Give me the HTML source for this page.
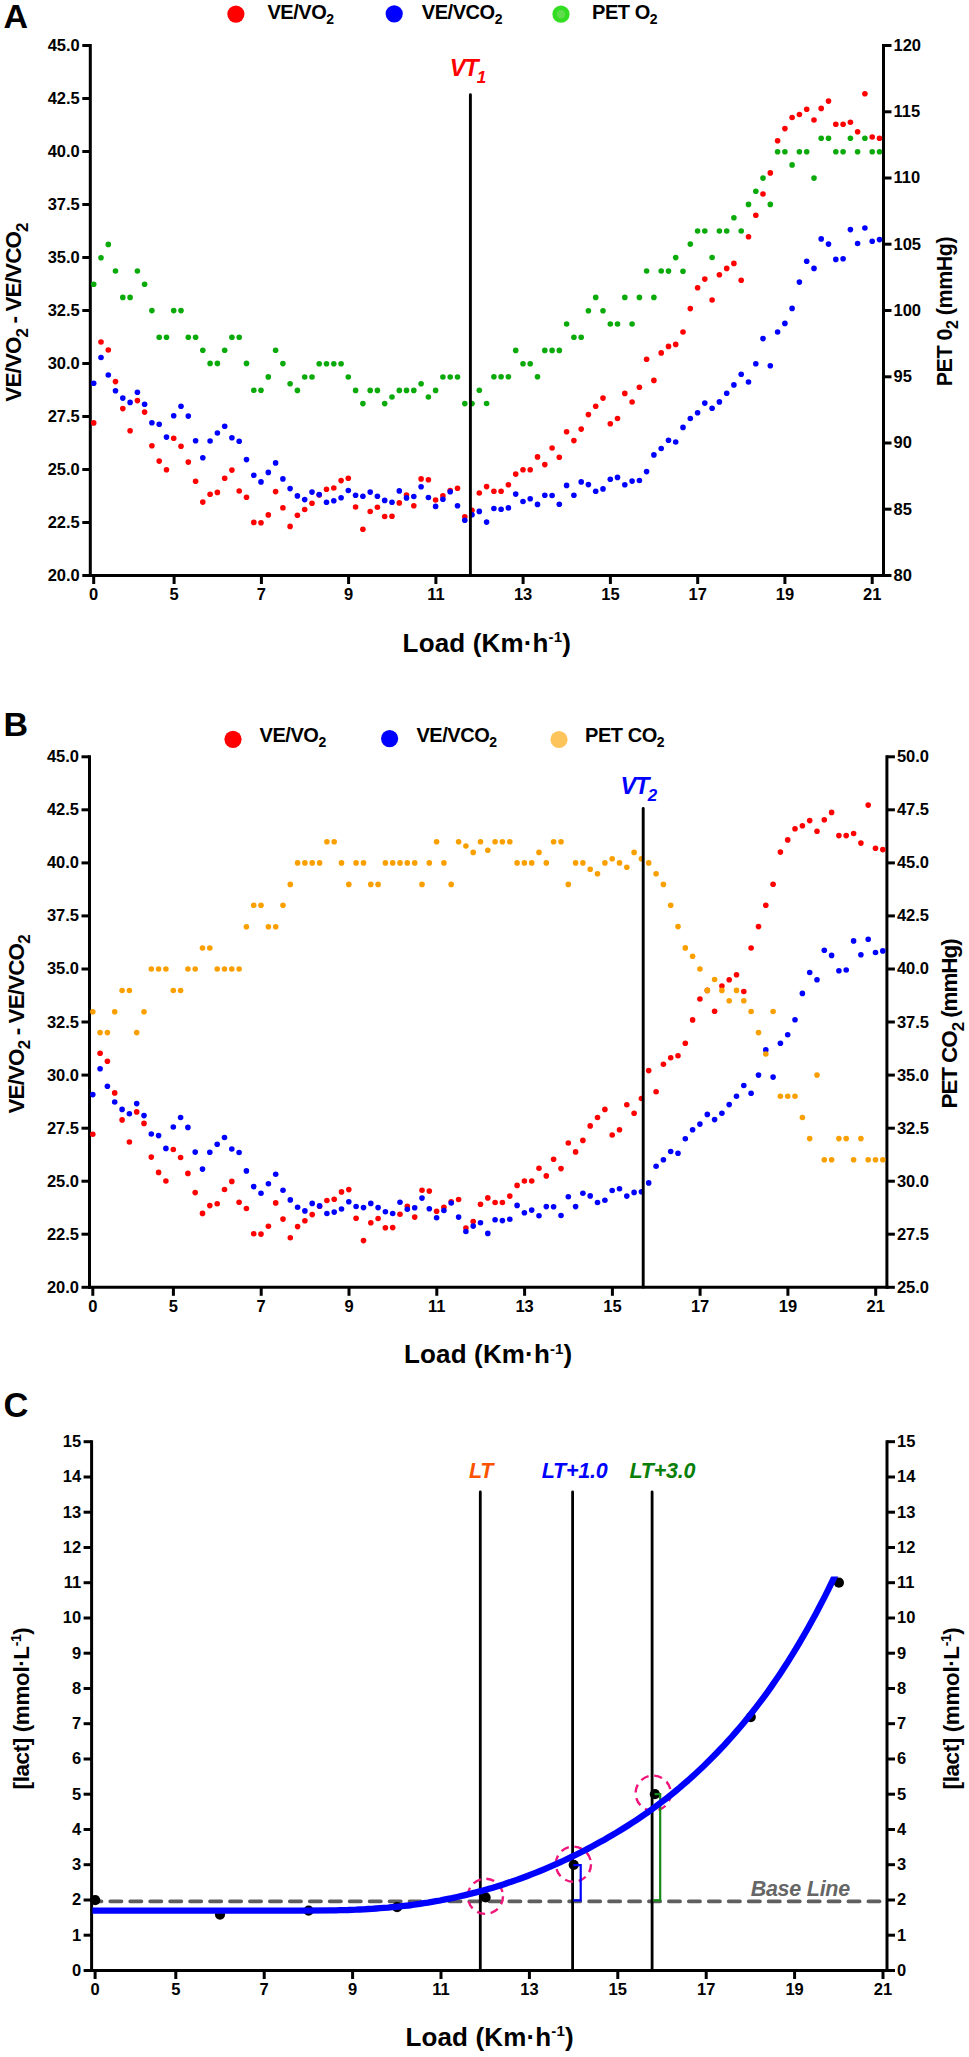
<!DOCTYPE html><html><head><meta charset="utf-8"><style>html,body{margin:0;padding:0;background:#fff;}svg{display:block;font-family:"Liberation Sans", sans-serif;}</style></head><body><svg width="969" height="2057" viewBox="0 0 969 2057" font-family="&quot;Liberation Sans&quot;, sans-serif" font-weight="bold">
<rect width="969" height="2057" fill="#fff"/>
<line x1="90.3" y1="44.0" x2="90.3" y2="577.0" stroke="#000" stroke-width="3" />
<line x1="883.5" y1="44.0" x2="883.5" y2="577.0" stroke="#000" stroke-width="3" />
<line x1="88.8" y1="575.5" x2="885.0" y2="575.5" stroke="#000" stroke-width="3" />
<line x1="82.3" y1="45.5" x2="90.3" y2="45.5" stroke="#000" stroke-width="3" />
<text x="79.8" y="50.9" font-size="16.5" text-anchor="end" fill="#000" >45.0</text>
<line x1="82.3" y1="98.5" x2="90.3" y2="98.5" stroke="#000" stroke-width="3" />
<text x="79.8" y="103.9" font-size="16.5" text-anchor="end" fill="#000" >42.5</text>
<line x1="82.3" y1="151.5" x2="90.3" y2="151.5" stroke="#000" stroke-width="3" />
<text x="79.8" y="156.9" font-size="16.5" text-anchor="end" fill="#000" >40.0</text>
<line x1="82.3" y1="204.5" x2="90.3" y2="204.5" stroke="#000" stroke-width="3" />
<text x="79.8" y="209.9" font-size="16.5" text-anchor="end" fill="#000" >37.5</text>
<line x1="82.3" y1="257.5" x2="90.3" y2="257.5" stroke="#000" stroke-width="3" />
<text x="79.8" y="262.9" font-size="16.5" text-anchor="end" fill="#000" >35.0</text>
<line x1="82.3" y1="310.5" x2="90.3" y2="310.5" stroke="#000" stroke-width="3" />
<text x="79.8" y="315.9" font-size="16.5" text-anchor="end" fill="#000" >32.5</text>
<line x1="82.3" y1="363.5" x2="90.3" y2="363.5" stroke="#000" stroke-width="3" />
<text x="79.8" y="368.9" font-size="16.5" text-anchor="end" fill="#000" >30.0</text>
<line x1="82.3" y1="416.5" x2="90.3" y2="416.5" stroke="#000" stroke-width="3" />
<text x="79.8" y="421.9" font-size="16.5" text-anchor="end" fill="#000" >27.5</text>
<line x1="82.3" y1="469.5" x2="90.3" y2="469.5" stroke="#000" stroke-width="3" />
<text x="79.8" y="474.9" font-size="16.5" text-anchor="end" fill="#000" >25.0</text>
<line x1="82.3" y1="522.5" x2="90.3" y2="522.5" stroke="#000" stroke-width="3" />
<text x="79.8" y="527.9" font-size="16.5" text-anchor="end" fill="#000" >22.5</text>
<line x1="82.3" y1="575.5" x2="90.3" y2="575.5" stroke="#000" stroke-width="3" />
<text x="79.8" y="580.9" font-size="16.5" text-anchor="end" fill="#000" >20.0</text>
<line x1="883.5" y1="45.5" x2="891.5" y2="45.5" stroke="#000" stroke-width="3" />
<text x="893.5" y="50.9" font-size="16.5" text-anchor="start" fill="#000" >120</text>
<line x1="883.5" y1="111.8" x2="891.5" y2="111.8" stroke="#000" stroke-width="3" />
<text x="893.5" y="117.2" font-size="16.5" text-anchor="start" fill="#000" >115</text>
<line x1="883.5" y1="178.0" x2="891.5" y2="178.0" stroke="#000" stroke-width="3" />
<text x="893.5" y="183.4" font-size="16.5" text-anchor="start" fill="#000" >110</text>
<line x1="883.5" y1="244.2" x2="891.5" y2="244.2" stroke="#000" stroke-width="3" />
<text x="893.5" y="249.7" font-size="16.5" text-anchor="start" fill="#000" >105</text>
<line x1="883.5" y1="310.5" x2="891.5" y2="310.5" stroke="#000" stroke-width="3" />
<text x="893.5" y="315.9" font-size="16.5" text-anchor="start" fill="#000" >100</text>
<line x1="883.5" y1="376.8" x2="891.5" y2="376.8" stroke="#000" stroke-width="3" />
<text x="893.5" y="382.1" font-size="16.5" text-anchor="start" fill="#000" >95</text>
<line x1="883.5" y1="443.0" x2="891.5" y2="443.0" stroke="#000" stroke-width="3" />
<text x="893.5" y="448.4" font-size="16.5" text-anchor="start" fill="#000" >90</text>
<line x1="883.5" y1="509.2" x2="891.5" y2="509.2" stroke="#000" stroke-width="3" />
<text x="893.5" y="514.6" font-size="16.5" text-anchor="start" fill="#000" >85</text>
<line x1="883.5" y1="575.5" x2="891.5" y2="575.5" stroke="#000" stroke-width="3" />
<text x="893.5" y="580.9" font-size="16.5" text-anchor="start" fill="#000" >80</text>
<line x1="93.7" y1="575.5" x2="93.7" y2="584.0" stroke="#000" stroke-width="3" />
<text x="93.7" y="600.0" font-size="16.5" text-anchor="middle" fill="#000" >0</text>
<line x1="174.1" y1="575.5" x2="174.1" y2="584.0" stroke="#000" stroke-width="3" />
<text x="174.1" y="600.0" font-size="16.5" text-anchor="middle" fill="#000" >5</text>
<line x1="261.4" y1="575.5" x2="261.4" y2="584.0" stroke="#000" stroke-width="3" />
<text x="261.4" y="600.0" font-size="16.5" text-anchor="middle" fill="#000" >7</text>
<line x1="348.6" y1="575.5" x2="348.6" y2="584.0" stroke="#000" stroke-width="3" />
<text x="348.6" y="600.0" font-size="16.5" text-anchor="middle" fill="#000" >9</text>
<line x1="435.9" y1="575.5" x2="435.9" y2="584.0" stroke="#000" stroke-width="3" />
<text x="435.9" y="600.0" font-size="16.5" text-anchor="middle" fill="#000" >11</text>
<line x1="523.1" y1="575.5" x2="523.1" y2="584.0" stroke="#000" stroke-width="3" />
<text x="523.1" y="600.0" font-size="16.5" text-anchor="middle" fill="#000" >13</text>
<line x1="610.4" y1="575.5" x2="610.4" y2="584.0" stroke="#000" stroke-width="3" />
<text x="610.4" y="600.0" font-size="16.5" text-anchor="middle" fill="#000" >15</text>
<line x1="697.7" y1="575.5" x2="697.7" y2="584.0" stroke="#000" stroke-width="3" />
<text x="697.7" y="600.0" font-size="16.5" text-anchor="middle" fill="#000" >17</text>
<line x1="784.9" y1="575.5" x2="784.9" y2="584.0" stroke="#000" stroke-width="3" />
<text x="784.9" y="600.0" font-size="16.5" text-anchor="middle" fill="#000" >19</text>
<line x1="872.2" y1="575.5" x2="872.2" y2="584.0" stroke="#000" stroke-width="3" />
<text x="872.2" y="600.0" font-size="16.5" text-anchor="middle" fill="#000" >21</text>
<g fill="#ff0000"><circle cx="93.7" cy="422.9" r="2.8"/><circle cx="101.0" cy="342.0" r="2.8"/><circle cx="108.3" cy="350.0" r="2.8"/><circle cx="115.5" cy="381.6" r="2.8"/><circle cx="122.8" cy="408.6" r="2.8"/><circle cx="130.1" cy="430.7" r="2.8"/><circle cx="137.4" cy="400.6" r="2.8"/><circle cx="144.6" cy="412.1" r="2.8"/><circle cx="151.9" cy="445.8" r="2.8"/><circle cx="159.2" cy="461.1" r="2.8"/><circle cx="166.5" cy="469.7" r="2.8"/><circle cx="173.7" cy="438.2" r="2.8"/><circle cx="181.0" cy="446.2" r="2.8"/><circle cx="188.3" cy="462.1" r="2.8"/><circle cx="195.6" cy="481.3" r="2.8"/><circle cx="202.8" cy="502.1" r="2.8"/><circle cx="210.1" cy="494.3" r="2.8"/><circle cx="217.4" cy="492.4" r="2.8"/><circle cx="224.7" cy="478.2" r="2.8"/><circle cx="231.9" cy="470.1" r="2.8"/><circle cx="239.2" cy="491.0" r="2.8"/><circle cx="246.5" cy="497.2" r="2.8"/><circle cx="253.8" cy="522.4" r="2.8"/><circle cx="261.0" cy="522.8" r="2.8"/><circle cx="268.3" cy="514.9" r="2.8"/><circle cx="275.6" cy="491.6" r="2.8"/><circle cx="282.9" cy="507.8" r="2.8"/><circle cx="290.1" cy="526.4" r="2.8"/><circle cx="297.4" cy="515.3" r="2.8"/><circle cx="304.7" cy="509.5" r="2.8"/><circle cx="312.0" cy="503.3" r="2.8"/><circle cx="319.2" cy="495.0" r="2.8"/><circle cx="326.5" cy="489.2" r="2.8"/><circle cx="333.8" cy="488.0" r="2.8"/><circle cx="341.1" cy="480.6" r="2.8"/><circle cx="348.3" cy="478.3" r="2.8"/><circle cx="355.6" cy="507.0" r="2.8"/><circle cx="362.9" cy="529.3" r="2.8"/><circle cx="370.2" cy="511.5" r="2.8"/><circle cx="377.4" cy="507.2" r="2.8"/><circle cx="384.7" cy="516.5" r="2.8"/><circle cx="392.0" cy="516.3" r="2.8"/><circle cx="399.3" cy="502.9" r="2.8"/><circle cx="406.5" cy="495.0" r="2.8"/><circle cx="413.8" cy="505.8" r="2.8"/><circle cx="421.1" cy="478.9" r="2.8"/><circle cx="428.4" cy="479.8" r="2.8"/><circle cx="435.6" cy="500.0" r="2.8"/><circle cx="442.9" cy="495.9" r="2.8"/><circle cx="450.2" cy="490.5" r="2.8"/><circle cx="457.5" cy="488.2" r="2.8"/><circle cx="464.8" cy="516.7" r="2.8"/><circle cx="472.0" cy="510.3" r="2.8"/><circle cx="479.3" cy="493.0" r="2.8"/><circle cx="486.6" cy="486.6" r="2.8"/><circle cx="493.9" cy="491.2" r="2.8"/><circle cx="501.1" cy="491.2" r="2.8"/><circle cx="508.4" cy="484.8" r="2.8"/><circle cx="515.7" cy="474.1" r="2.8"/><circle cx="523.0" cy="469.7" r="2.8"/><circle cx="530.2" cy="469.7" r="2.8"/><circle cx="537.5" cy="456.9" r="2.8"/><circle cx="544.8" cy="464.6" r="2.8"/><circle cx="552.1" cy="448.0" r="2.8"/><circle cx="559.3" cy="457.3" r="2.8"/><circle cx="566.6" cy="431.7" r="2.8"/><circle cx="573.9" cy="440.6" r="2.8"/><circle cx="581.2" cy="429.1" r="2.8"/><circle cx="588.4" cy="414.6" r="2.8"/><circle cx="595.7" cy="406.2" r="2.8"/><circle cx="603.0" cy="398.1" r="2.8"/><circle cx="610.3" cy="423.7" r="2.8"/><circle cx="617.5" cy="418.5" r="2.8"/><circle cx="624.8" cy="393.4" r="2.8"/><circle cx="632.1" cy="402.0" r="2.8"/><circle cx="639.4" cy="387.2" r="2.8"/><circle cx="646.6" cy="359.3" r="2.8"/><circle cx="653.9" cy="380.4" r="2.8"/><circle cx="661.2" cy="352.9" r="2.8"/><circle cx="668.5" cy="346.4" r="2.8"/><circle cx="675.7" cy="344.4" r="2.8"/><circle cx="683.0" cy="332.0" r="2.8"/><circle cx="690.3" cy="308.6" r="2.8"/><circle cx="697.6" cy="287.7" r="2.8"/><circle cx="704.8" cy="279.1" r="2.8"/><circle cx="712.1" cy="300.0" r="2.8"/><circle cx="719.4" cy="274.8" r="2.8"/><circle cx="726.7" cy="268.4" r="2.8"/><circle cx="733.9" cy="263.4" r="2.8"/><circle cx="741.2" cy="280.2" r="2.8"/><circle cx="748.5" cy="236.7" r="2.8"/><circle cx="755.8" cy="215.3" r="2.8"/><circle cx="763.0" cy="194.0" r="2.8"/><circle cx="770.3" cy="172.9" r="2.8"/><circle cx="777.6" cy="140.8" r="2.8"/><circle cx="784.9" cy="128.6" r="2.8"/><circle cx="792.1" cy="117.5" r="2.8"/><circle cx="799.4" cy="114.5" r="2.8"/><circle cx="806.7" cy="109.3" r="2.8"/><circle cx="814.0" cy="120.0" r="2.8"/><circle cx="821.2" cy="108.4" r="2.8"/><circle cx="828.5" cy="101.1" r="2.8"/><circle cx="835.8" cy="124.3" r="2.8"/><circle cx="843.1" cy="124.3" r="2.8"/><circle cx="850.4" cy="122.2" r="2.8"/><circle cx="857.6" cy="131.8" r="2.8"/><circle cx="864.9" cy="93.8" r="2.8"/><circle cx="872.2" cy="137.0" r="2.8"/><circle cx="879.5" cy="138.3" r="2.8"/></g>
<g fill="#0000ff"><circle cx="93.7" cy="383.3" r="2.8"/><circle cx="101.0" cy="357.5" r="2.8"/><circle cx="108.3" cy="375.0" r="2.8"/><circle cx="115.5" cy="390.7" r="2.8"/><circle cx="122.8" cy="398.1" r="2.8"/><circle cx="130.1" cy="402.4" r="2.8"/><circle cx="137.4" cy="392.3" r="2.8"/><circle cx="144.6" cy="404.3" r="2.8"/><circle cx="151.9" cy="422.7" r="2.8"/><circle cx="159.2" cy="424.3" r="2.8"/><circle cx="166.5" cy="437.1" r="2.8"/><circle cx="173.7" cy="415.7" r="2.8"/><circle cx="181.0" cy="406.2" r="2.8"/><circle cx="188.3" cy="416.1" r="2.8"/><circle cx="195.6" cy="440.8" r="2.8"/><circle cx="202.8" cy="457.8" r="2.8"/><circle cx="210.1" cy="441.0" r="2.8"/><circle cx="217.4" cy="433.0" r="2.8"/><circle cx="224.7" cy="426.2" r="2.8"/><circle cx="231.9" cy="437.7" r="2.8"/><circle cx="239.2" cy="441.2" r="2.8"/><circle cx="246.5" cy="459.6" r="2.8"/><circle cx="253.8" cy="475.3" r="2.8"/><circle cx="261.0" cy="481.9" r="2.8"/><circle cx="268.3" cy="472.4" r="2.8"/><circle cx="275.6" cy="462.9" r="2.8"/><circle cx="282.9" cy="478.9" r="2.8"/><circle cx="290.1" cy="488.6" r="2.8"/><circle cx="297.4" cy="495.9" r="2.8"/><circle cx="304.7" cy="499.6" r="2.8"/><circle cx="312.0" cy="492.1" r="2.8"/><circle cx="319.2" cy="494.6" r="2.8"/><circle cx="326.5" cy="502.2" r="2.8"/><circle cx="333.8" cy="500.8" r="2.8"/><circle cx="341.1" cy="497.7" r="2.8"/><circle cx="348.3" cy="490.5" r="2.8"/><circle cx="355.6" cy="495.2" r="2.8"/><circle cx="362.9" cy="496.3" r="2.8"/><circle cx="370.2" cy="492.1" r="2.8"/><circle cx="377.4" cy="496.3" r="2.8"/><circle cx="384.7" cy="500.4" r="2.8"/><circle cx="392.0" cy="502.2" r="2.8"/><circle cx="399.3" cy="490.9" r="2.8"/><circle cx="406.5" cy="497.9" r="2.8"/><circle cx="413.8" cy="496.5" r="2.8"/><circle cx="421.1" cy="486.8" r="2.8"/><circle cx="428.4" cy="497.5" r="2.8"/><circle cx="435.6" cy="506.4" r="2.8"/><circle cx="442.9" cy="499.2" r="2.8"/><circle cx="450.2" cy="491.7" r="2.8"/><circle cx="457.5" cy="505.8" r="2.8"/><circle cx="464.8" cy="520.2" r="2.8"/><circle cx="472.0" cy="514.8" r="2.8"/><circle cx="479.3" cy="511.4" r="2.8"/><circle cx="486.6" cy="522.1" r="2.8"/><circle cx="493.9" cy="508.5" r="2.8"/><circle cx="501.1" cy="509.3" r="2.8"/><circle cx="508.4" cy="507.9" r="2.8"/><circle cx="515.7" cy="494.1" r="2.8"/><circle cx="523.0" cy="501.5" r="2.8"/><circle cx="530.2" cy="498.8" r="2.8"/><circle cx="537.5" cy="504.4" r="2.8"/><circle cx="544.8" cy="495.3" r="2.8"/><circle cx="552.1" cy="495.5" r="2.8"/><circle cx="559.3" cy="504.2" r="2.8"/><circle cx="566.6" cy="485.4" r="2.8"/><circle cx="573.9" cy="495.3" r="2.8"/><circle cx="581.2" cy="481.9" r="2.8"/><circle cx="588.4" cy="484.6" r="2.8"/><circle cx="595.7" cy="491.2" r="2.8"/><circle cx="603.0" cy="488.9" r="2.8"/><circle cx="610.3" cy="479.2" r="2.8"/><circle cx="617.5" cy="477.4" r="2.8"/><circle cx="624.8" cy="484.8" r="2.8"/><circle cx="632.1" cy="481.1" r="2.8"/><circle cx="639.4" cy="480.5" r="2.8"/><circle cx="646.6" cy="471.6" r="2.8"/><circle cx="653.9" cy="454.9" r="2.8"/><circle cx="661.2" cy="448.5" r="2.8"/><circle cx="668.5" cy="440.2" r="2.8"/><circle cx="675.7" cy="442.0" r="2.8"/><circle cx="683.0" cy="427.4" r="2.8"/><circle cx="690.3" cy="418.5" r="2.8"/><circle cx="697.6" cy="412.8" r="2.8"/><circle cx="704.8" cy="403.1" r="2.8"/><circle cx="712.1" cy="408.3" r="2.8"/><circle cx="719.4" cy="401.9" r="2.8"/><circle cx="726.7" cy="393.3" r="2.8"/><circle cx="733.9" cy="384.9" r="2.8"/><circle cx="741.2" cy="374.2" r="2.8"/><circle cx="748.5" cy="382.0" r="2.8"/><circle cx="755.8" cy="363.8" r="2.8"/><circle cx="763.0" cy="338.6" r="2.8"/><circle cx="770.3" cy="365.8" r="2.8"/><circle cx="777.6" cy="332.0" r="2.8"/><circle cx="784.9" cy="323.4" r="2.8"/><circle cx="792.1" cy="308.4" r="2.8"/><circle cx="799.4" cy="282.1" r="2.8"/><circle cx="806.7" cy="261.2" r="2.8"/><circle cx="814.0" cy="268.4" r="2.8"/><circle cx="821.2" cy="238.9" r="2.8"/><circle cx="828.5" cy="244.1" r="2.8"/><circle cx="835.8" cy="259.4" r="2.8"/><circle cx="843.1" cy="258.7" r="2.8"/><circle cx="850.4" cy="229.6" r="2.8"/><circle cx="857.6" cy="243.5" r="2.8"/><circle cx="864.9" cy="228.0" r="2.8"/><circle cx="872.2" cy="241.2" r="2.8"/><circle cx="879.5" cy="239.6" r="2.8"/></g>
<g fill="#0aaa0a"><circle cx="93.7" cy="284.2" r="2.8"/><circle cx="101.0" cy="257.8" r="2.8"/><circle cx="108.3" cy="244.4" r="2.8"/><circle cx="115.5" cy="271.0" r="2.8"/><circle cx="122.8" cy="297.4" r="2.8"/><circle cx="130.1" cy="297.4" r="2.8"/><circle cx="137.4" cy="271.0" r="2.8"/><circle cx="144.6" cy="284.2" r="2.8"/><circle cx="151.9" cy="310.6" r="2.8"/><circle cx="159.2" cy="337.2" r="2.8"/><circle cx="166.5" cy="337.2" r="2.8"/><circle cx="173.7" cy="310.6" r="2.8"/><circle cx="181.0" cy="310.6" r="2.8"/><circle cx="188.3" cy="337.2" r="2.8"/><circle cx="195.6" cy="337.2" r="2.8"/><circle cx="202.8" cy="350.2" r="2.8"/><circle cx="210.1" cy="363.4" r="2.8"/><circle cx="217.4" cy="363.4" r="2.8"/><circle cx="224.7" cy="350.2" r="2.8"/><circle cx="231.9" cy="337.2" r="2.8"/><circle cx="239.2" cy="337.2" r="2.8"/><circle cx="246.5" cy="363.4" r="2.8"/><circle cx="253.8" cy="390.3" r="2.8"/><circle cx="261.0" cy="390.3" r="2.8"/><circle cx="268.3" cy="376.9" r="2.8"/><circle cx="275.6" cy="350.2" r="2.8"/><circle cx="282.9" cy="363.6" r="2.8"/><circle cx="290.1" cy="383.8" r="2.8"/><circle cx="297.4" cy="390.4" r="2.8"/><circle cx="304.7" cy="377.0" r="2.8"/><circle cx="312.0" cy="377.0" r="2.8"/><circle cx="319.2" cy="363.8" r="2.8"/><circle cx="326.5" cy="363.8" r="2.8"/><circle cx="333.8" cy="363.8" r="2.8"/><circle cx="341.1" cy="363.8" r="2.8"/><circle cx="348.3" cy="377.0" r="2.8"/><circle cx="355.6" cy="390.4" r="2.8"/><circle cx="362.9" cy="403.6" r="2.8"/><circle cx="370.2" cy="390.4" r="2.8"/><circle cx="377.4" cy="390.4" r="2.8"/><circle cx="384.7" cy="403.6" r="2.8"/><circle cx="392.0" cy="397.0" r="2.8"/><circle cx="399.3" cy="390.4" r="2.8"/><circle cx="406.5" cy="390.4" r="2.8"/><circle cx="413.8" cy="390.4" r="2.8"/><circle cx="421.1" cy="383.8" r="2.8"/><circle cx="428.4" cy="397.0" r="2.8"/><circle cx="435.6" cy="390.4" r="2.8"/><circle cx="442.9" cy="377.0" r="2.8"/><circle cx="450.2" cy="377.0" r="2.8"/><circle cx="457.5" cy="377.0" r="2.8"/><circle cx="464.8" cy="403.6" r="2.8"/><circle cx="472.0" cy="403.6" r="2.8"/><circle cx="479.3" cy="390.3" r="2.8"/><circle cx="486.6" cy="403.5" r="2.8"/><circle cx="493.9" cy="376.8" r="2.8"/><circle cx="501.1" cy="376.8" r="2.8"/><circle cx="508.4" cy="376.8" r="2.8"/><circle cx="515.7" cy="350.4" r="2.8"/><circle cx="523.0" cy="363.8" r="2.8"/><circle cx="530.2" cy="363.8" r="2.8"/><circle cx="537.5" cy="376.8" r="2.8"/><circle cx="544.8" cy="350.4" r="2.8"/><circle cx="552.1" cy="350.4" r="2.8"/><circle cx="559.3" cy="350.4" r="2.8"/><circle cx="566.6" cy="324.0" r="2.8"/><circle cx="573.9" cy="337.2" r="2.8"/><circle cx="581.2" cy="337.2" r="2.8"/><circle cx="588.4" cy="310.8" r="2.8"/><circle cx="595.7" cy="297.4" r="2.8"/><circle cx="603.0" cy="310.8" r="2.8"/><circle cx="610.3" cy="324.0" r="2.8"/><circle cx="617.5" cy="324.0" r="2.8"/><circle cx="624.8" cy="297.4" r="2.8"/><circle cx="632.1" cy="324.0" r="2.8"/><circle cx="639.4" cy="297.4" r="2.8"/><circle cx="646.6" cy="271.0" r="2.8"/><circle cx="653.9" cy="297.4" r="2.8"/><circle cx="661.2" cy="271.0" r="2.8"/><circle cx="668.5" cy="271.1" r="2.8"/><circle cx="675.7" cy="257.6" r="2.8"/><circle cx="683.0" cy="271.2" r="2.8"/><circle cx="690.3" cy="244.1" r="2.8"/><circle cx="697.6" cy="231.0" r="2.8"/><circle cx="704.8" cy="231.0" r="2.8"/><circle cx="712.1" cy="257.5" r="2.8"/><circle cx="719.4" cy="231.0" r="2.8"/><circle cx="726.7" cy="231.0" r="2.8"/><circle cx="733.9" cy="217.8" r="2.8"/><circle cx="741.2" cy="231.0" r="2.8"/><circle cx="748.5" cy="204.4" r="2.8"/><circle cx="755.8" cy="191.2" r="2.8"/><circle cx="763.0" cy="178.1" r="2.8"/><circle cx="770.3" cy="204.4" r="2.8"/><circle cx="777.6" cy="151.7" r="2.8"/><circle cx="784.9" cy="151.7" r="2.8"/><circle cx="792.1" cy="164.9" r="2.8"/><circle cx="799.4" cy="151.7" r="2.8"/><circle cx="806.7" cy="151.7" r="2.8"/><circle cx="814.0" cy="178.1" r="2.8"/><circle cx="821.2" cy="138.3" r="2.8"/><circle cx="828.5" cy="138.3" r="2.8"/><circle cx="835.8" cy="151.7" r="2.8"/><circle cx="843.1" cy="151.7" r="2.8"/><circle cx="850.4" cy="138.3" r="2.8"/><circle cx="857.6" cy="151.7" r="2.8"/><circle cx="864.9" cy="138.3" r="2.8"/><circle cx="872.2" cy="151.7" r="2.8"/><circle cx="879.5" cy="151.7" r="2.8"/></g>
<line x1="470.4" y1="94.8" x2="470.4" y2="575.5" stroke="#000" stroke-width="2.9" stroke-linecap="round"/>
<line x1="89.5" y1="755.3" x2="89.5" y2="1288.8" stroke="#000" stroke-width="3" />
<line x1="886.9" y1="755.3" x2="886.9" y2="1288.8" stroke="#000" stroke-width="3" />
<line x1="88.0" y1="1287.3" x2="888.4" y2="1287.3" stroke="#000" stroke-width="3" />
<line x1="81.5" y1="756.8" x2="89.5" y2="756.8" stroke="#000" stroke-width="3" />
<text x="79.0" y="762.2" font-size="16.5" text-anchor="end" fill="#000" >45.0</text>
<line x1="81.5" y1="809.8" x2="89.5" y2="809.8" stroke="#000" stroke-width="3" />
<text x="79.0" y="815.2" font-size="16.5" text-anchor="end" fill="#000" >42.5</text>
<line x1="81.5" y1="862.9" x2="89.5" y2="862.9" stroke="#000" stroke-width="3" />
<text x="79.0" y="868.3" font-size="16.5" text-anchor="end" fill="#000" >40.0</text>
<line x1="81.5" y1="915.9" x2="89.5" y2="915.9" stroke="#000" stroke-width="3" />
<text x="79.0" y="921.3" font-size="16.5" text-anchor="end" fill="#000" >37.5</text>
<line x1="81.5" y1="969.0" x2="89.5" y2="969.0" stroke="#000" stroke-width="3" />
<text x="79.0" y="974.4" font-size="16.5" text-anchor="end" fill="#000" >35.0</text>
<line x1="81.5" y1="1022.0" x2="89.5" y2="1022.0" stroke="#000" stroke-width="3" />
<text x="79.0" y="1027.5" font-size="16.5" text-anchor="end" fill="#000" >32.5</text>
<line x1="81.5" y1="1075.1" x2="89.5" y2="1075.1" stroke="#000" stroke-width="3" />
<text x="79.0" y="1080.5" font-size="16.5" text-anchor="end" fill="#000" >30.0</text>
<line x1="81.5" y1="1128.2" x2="89.5" y2="1128.2" stroke="#000" stroke-width="3" />
<text x="79.0" y="1133.6" font-size="16.5" text-anchor="end" fill="#000" >27.5</text>
<line x1="81.5" y1="1181.2" x2="89.5" y2="1181.2" stroke="#000" stroke-width="3" />
<text x="79.0" y="1186.6" font-size="16.5" text-anchor="end" fill="#000" >25.0</text>
<line x1="81.5" y1="1234.2" x2="89.5" y2="1234.2" stroke="#000" stroke-width="3" />
<text x="79.0" y="1239.7" font-size="16.5" text-anchor="end" fill="#000" >22.5</text>
<line x1="81.5" y1="1287.3" x2="89.5" y2="1287.3" stroke="#000" stroke-width="3" />
<text x="79.0" y="1292.7" font-size="16.5" text-anchor="end" fill="#000" >20.0</text>
<line x1="886.9" y1="756.8" x2="894.9" y2="756.8" stroke="#000" stroke-width="3" />
<text x="896.9" y="762.2" font-size="16.5" text-anchor="start" fill="#000" >50.0</text>
<line x1="886.9" y1="809.8" x2="894.9" y2="809.8" stroke="#000" stroke-width="3" />
<text x="896.9" y="815.2" font-size="16.5" text-anchor="start" fill="#000" >47.5</text>
<line x1="886.9" y1="862.9" x2="894.9" y2="862.9" stroke="#000" stroke-width="3" />
<text x="896.9" y="868.3" font-size="16.5" text-anchor="start" fill="#000" >45.0</text>
<line x1="886.9" y1="915.9" x2="894.9" y2="915.9" stroke="#000" stroke-width="3" />
<text x="896.9" y="921.3" font-size="16.5" text-anchor="start" fill="#000" >42.5</text>
<line x1="886.9" y1="969.0" x2="894.9" y2="969.0" stroke="#000" stroke-width="3" />
<text x="896.9" y="974.4" font-size="16.5" text-anchor="start" fill="#000" >40.0</text>
<line x1="886.9" y1="1022.0" x2="894.9" y2="1022.0" stroke="#000" stroke-width="3" />
<text x="896.9" y="1027.5" font-size="16.5" text-anchor="start" fill="#000" >37.5</text>
<line x1="886.9" y1="1075.1" x2="894.9" y2="1075.1" stroke="#000" stroke-width="3" />
<text x="896.9" y="1080.5" font-size="16.5" text-anchor="start" fill="#000" >35.0</text>
<line x1="886.9" y1="1128.2" x2="894.9" y2="1128.2" stroke="#000" stroke-width="3" />
<text x="896.9" y="1133.6" font-size="16.5" text-anchor="start" fill="#000" >32.5</text>
<line x1="886.9" y1="1181.2" x2="894.9" y2="1181.2" stroke="#000" stroke-width="3" />
<text x="896.9" y="1186.6" font-size="16.5" text-anchor="start" fill="#000" >30.0</text>
<line x1="886.9" y1="1234.2" x2="894.9" y2="1234.2" stroke="#000" stroke-width="3" />
<text x="896.9" y="1239.7" font-size="16.5" text-anchor="start" fill="#000" >27.5</text>
<line x1="886.9" y1="1287.3" x2="894.9" y2="1287.3" stroke="#000" stroke-width="3" />
<text x="896.9" y="1292.7" font-size="16.5" text-anchor="start" fill="#000" >25.0</text>
<line x1="92.8" y1="1287.3" x2="92.8" y2="1295.8" stroke="#000" stroke-width="3" />
<text x="92.8" y="1311.8" font-size="16.5" text-anchor="middle" fill="#000" >0</text>
<line x1="173.4" y1="1287.3" x2="173.4" y2="1295.8" stroke="#000" stroke-width="3" />
<text x="173.4" y="1311.8" font-size="16.5" text-anchor="middle" fill="#000" >5</text>
<line x1="261.2" y1="1287.3" x2="261.2" y2="1295.8" stroke="#000" stroke-width="3" />
<text x="261.2" y="1311.8" font-size="16.5" text-anchor="middle" fill="#000" >7</text>
<line x1="349.0" y1="1287.3" x2="349.0" y2="1295.8" stroke="#000" stroke-width="3" />
<text x="349.0" y="1311.8" font-size="16.5" text-anchor="middle" fill="#000" >9</text>
<line x1="436.8" y1="1287.3" x2="436.8" y2="1295.8" stroke="#000" stroke-width="3" />
<text x="436.8" y="1311.8" font-size="16.5" text-anchor="middle" fill="#000" >11</text>
<line x1="524.6" y1="1287.3" x2="524.6" y2="1295.8" stroke="#000" stroke-width="3" />
<text x="524.6" y="1311.8" font-size="16.5" text-anchor="middle" fill="#000" >13</text>
<line x1="612.4" y1="1287.3" x2="612.4" y2="1295.8" stroke="#000" stroke-width="3" />
<text x="612.4" y="1311.8" font-size="16.5" text-anchor="middle" fill="#000" >15</text>
<line x1="700.1" y1="1287.3" x2="700.1" y2="1295.8" stroke="#000" stroke-width="3" />
<text x="700.1" y="1311.8" font-size="16.5" text-anchor="middle" fill="#000" >17</text>
<line x1="787.9" y1="1287.3" x2="787.9" y2="1295.8" stroke="#000" stroke-width="3" />
<text x="787.9" y="1311.8" font-size="16.5" text-anchor="middle" fill="#000" >19</text>
<line x1="875.7" y1="1287.3" x2="875.7" y2="1295.8" stroke="#000" stroke-width="3" />
<text x="875.7" y="1311.8" font-size="16.5" text-anchor="middle" fill="#000" >21</text>
<g fill="#ff0000"><circle cx="92.8" cy="1134.2" r="2.8"/><circle cx="100.1" cy="1053.3" r="2.8"/><circle cx="107.4" cy="1061.3" r="2.8"/><circle cx="114.7" cy="1092.9" r="2.8"/><circle cx="122.1" cy="1119.9" r="2.8"/><circle cx="129.4" cy="1142.0" r="2.8"/><circle cx="136.7" cy="1111.9" r="2.8"/><circle cx="144.0" cy="1123.4" r="2.8"/><circle cx="151.3" cy="1157.1" r="2.8"/><circle cx="158.6" cy="1172.4" r="2.8"/><circle cx="165.9" cy="1181.0" r="2.8"/><circle cx="173.3" cy="1149.5" r="2.8"/><circle cx="180.6" cy="1157.5" r="2.8"/><circle cx="187.9" cy="1173.4" r="2.8"/><circle cx="195.2" cy="1192.6" r="2.8"/><circle cx="202.5" cy="1213.4" r="2.8"/><circle cx="209.8" cy="1205.6" r="2.8"/><circle cx="217.2" cy="1203.7" r="2.8"/><circle cx="224.5" cy="1189.5" r="2.8"/><circle cx="231.8" cy="1181.4" r="2.8"/><circle cx="239.1" cy="1202.3" r="2.8"/><circle cx="246.4" cy="1208.5" r="2.8"/><circle cx="253.7" cy="1233.7" r="2.8"/><circle cx="261.0" cy="1234.1" r="2.8"/><circle cx="268.4" cy="1226.2" r="2.8"/><circle cx="275.7" cy="1202.9" r="2.8"/><circle cx="283.0" cy="1219.1" r="2.8"/><circle cx="290.3" cy="1237.7" r="2.8"/><circle cx="297.6" cy="1226.6" r="2.8"/><circle cx="304.9" cy="1220.8" r="2.8"/><circle cx="312.2" cy="1214.6" r="2.8"/><circle cx="319.6" cy="1206.3" r="2.8"/><circle cx="326.9" cy="1200.5" r="2.8"/><circle cx="334.2" cy="1199.3" r="2.8"/><circle cx="341.5" cy="1191.9" r="2.8"/><circle cx="348.8" cy="1189.6" r="2.8"/><circle cx="356.1" cy="1218.3" r="2.8"/><circle cx="363.5" cy="1240.6" r="2.8"/><circle cx="370.8" cy="1222.8" r="2.8"/><circle cx="378.1" cy="1218.5" r="2.8"/><circle cx="385.4" cy="1227.8" r="2.8"/><circle cx="392.7" cy="1227.6" r="2.8"/><circle cx="400.0" cy="1214.2" r="2.8"/><circle cx="407.3" cy="1206.3" r="2.8"/><circle cx="414.7" cy="1217.1" r="2.8"/><circle cx="422.0" cy="1190.2" r="2.8"/><circle cx="429.3" cy="1191.1" r="2.8"/><circle cx="436.6" cy="1211.3" r="2.8"/><circle cx="443.9" cy="1207.2" r="2.8"/><circle cx="451.2" cy="1201.8" r="2.8"/><circle cx="458.6" cy="1199.5" r="2.8"/><circle cx="465.9" cy="1228.0" r="2.8"/><circle cx="473.2" cy="1221.6" r="2.8"/><circle cx="480.5" cy="1204.3" r="2.8"/><circle cx="487.8" cy="1197.9" r="2.8"/><circle cx="495.1" cy="1202.5" r="2.8"/><circle cx="502.4" cy="1202.5" r="2.8"/><circle cx="509.8" cy="1196.1" r="2.8"/><circle cx="517.1" cy="1185.4" r="2.8"/><circle cx="524.4" cy="1181.0" r="2.8"/><circle cx="531.7" cy="1181.0" r="2.8"/><circle cx="539.0" cy="1168.2" r="2.8"/><circle cx="546.3" cy="1175.9" r="2.8"/><circle cx="553.6" cy="1159.3" r="2.8"/><circle cx="561.0" cy="1168.6" r="2.8"/><circle cx="568.3" cy="1143.0" r="2.8"/><circle cx="575.6" cy="1151.9" r="2.8"/><circle cx="582.9" cy="1140.4" r="2.8"/><circle cx="590.2" cy="1125.9" r="2.8"/><circle cx="597.5" cy="1117.5" r="2.8"/><circle cx="604.9" cy="1109.4" r="2.8"/><circle cx="612.2" cy="1135.0" r="2.8"/><circle cx="619.5" cy="1129.8" r="2.8"/><circle cx="626.8" cy="1104.7" r="2.8"/><circle cx="634.1" cy="1113.3" r="2.8"/><circle cx="641.4" cy="1098.5" r="2.8"/><circle cx="648.7" cy="1070.6" r="2.8"/><circle cx="656.1" cy="1091.7" r="2.8"/><circle cx="663.4" cy="1064.2" r="2.8"/><circle cx="670.7" cy="1057.7" r="2.8"/><circle cx="678.0" cy="1055.7" r="2.8"/><circle cx="685.3" cy="1043.3" r="2.8"/><circle cx="692.6" cy="1019.9" r="2.8"/><circle cx="699.9" cy="999.0" r="2.8"/><circle cx="707.3" cy="990.4" r="2.8"/><circle cx="714.6" cy="1011.3" r="2.8"/><circle cx="721.9" cy="986.1" r="2.8"/><circle cx="729.2" cy="979.7" r="2.8"/><circle cx="736.5" cy="974.7" r="2.8"/><circle cx="743.8" cy="991.5" r="2.8"/><circle cx="751.1" cy="948.0" r="2.8"/><circle cx="758.5" cy="926.6" r="2.8"/><circle cx="765.8" cy="905.3" r="2.8"/><circle cx="773.1" cy="884.2" r="2.8"/><circle cx="780.4" cy="852.1" r="2.8"/><circle cx="787.7" cy="839.9" r="2.8"/><circle cx="795.0" cy="828.8" r="2.8"/><circle cx="802.4" cy="825.8" r="2.8"/><circle cx="809.7" cy="820.6" r="2.8"/><circle cx="817.0" cy="831.3" r="2.8"/><circle cx="824.3" cy="819.7" r="2.8"/><circle cx="831.6" cy="812.4" r="2.8"/><circle cx="838.9" cy="835.6" r="2.8"/><circle cx="846.2" cy="835.6" r="2.8"/><circle cx="853.6" cy="833.5" r="2.8"/><circle cx="860.9" cy="843.1" r="2.8"/><circle cx="868.2" cy="805.1" r="2.8"/><circle cx="875.5" cy="848.3" r="2.8"/><circle cx="882.8" cy="849.6" r="2.8"/></g>
<g fill="#0000ff"><circle cx="92.8" cy="1094.6" r="2.8"/><circle cx="100.1" cy="1068.8" r="2.8"/><circle cx="107.4" cy="1086.3" r="2.8"/><circle cx="114.7" cy="1102.0" r="2.8"/><circle cx="122.1" cy="1109.4" r="2.8"/><circle cx="129.4" cy="1113.7" r="2.8"/><circle cx="136.7" cy="1103.6" r="2.8"/><circle cx="144.0" cy="1115.6" r="2.8"/><circle cx="151.3" cy="1134.0" r="2.8"/><circle cx="158.6" cy="1135.6" r="2.8"/><circle cx="165.9" cy="1148.4" r="2.8"/><circle cx="173.3" cy="1127.0" r="2.8"/><circle cx="180.6" cy="1117.5" r="2.8"/><circle cx="187.9" cy="1127.4" r="2.8"/><circle cx="195.2" cy="1152.1" r="2.8"/><circle cx="202.5" cy="1169.1" r="2.8"/><circle cx="209.8" cy="1152.3" r="2.8"/><circle cx="217.2" cy="1144.3" r="2.8"/><circle cx="224.5" cy="1137.5" r="2.8"/><circle cx="231.8" cy="1149.0" r="2.8"/><circle cx="239.1" cy="1152.5" r="2.8"/><circle cx="246.4" cy="1170.9" r="2.8"/><circle cx="253.7" cy="1186.6" r="2.8"/><circle cx="261.0" cy="1193.2" r="2.8"/><circle cx="268.4" cy="1183.7" r="2.8"/><circle cx="275.7" cy="1174.2" r="2.8"/><circle cx="283.0" cy="1190.2" r="2.8"/><circle cx="290.3" cy="1199.9" r="2.8"/><circle cx="297.6" cy="1207.2" r="2.8"/><circle cx="304.9" cy="1210.9" r="2.8"/><circle cx="312.2" cy="1203.4" r="2.8"/><circle cx="319.6" cy="1205.9" r="2.8"/><circle cx="326.9" cy="1213.5" r="2.8"/><circle cx="334.2" cy="1212.1" r="2.8"/><circle cx="341.5" cy="1209.0" r="2.8"/><circle cx="348.8" cy="1201.8" r="2.8"/><circle cx="356.1" cy="1206.5" r="2.8"/><circle cx="363.5" cy="1207.6" r="2.8"/><circle cx="370.8" cy="1203.4" r="2.8"/><circle cx="378.1" cy="1207.6" r="2.8"/><circle cx="385.4" cy="1211.7" r="2.8"/><circle cx="392.7" cy="1213.5" r="2.8"/><circle cx="400.0" cy="1202.2" r="2.8"/><circle cx="407.3" cy="1209.2" r="2.8"/><circle cx="414.7" cy="1207.8" r="2.8"/><circle cx="422.0" cy="1198.1" r="2.8"/><circle cx="429.3" cy="1208.8" r="2.8"/><circle cx="436.6" cy="1217.7" r="2.8"/><circle cx="443.9" cy="1210.5" r="2.8"/><circle cx="451.2" cy="1203.0" r="2.8"/><circle cx="458.6" cy="1217.1" r="2.8"/><circle cx="465.9" cy="1231.5" r="2.8"/><circle cx="473.2" cy="1226.1" r="2.8"/><circle cx="480.5" cy="1222.7" r="2.8"/><circle cx="487.8" cy="1233.4" r="2.8"/><circle cx="495.1" cy="1219.8" r="2.8"/><circle cx="502.4" cy="1220.6" r="2.8"/><circle cx="509.8" cy="1219.2" r="2.8"/><circle cx="517.1" cy="1205.4" r="2.8"/><circle cx="524.4" cy="1212.8" r="2.8"/><circle cx="531.7" cy="1210.1" r="2.8"/><circle cx="539.0" cy="1215.7" r="2.8"/><circle cx="546.3" cy="1206.6" r="2.8"/><circle cx="553.6" cy="1206.8" r="2.8"/><circle cx="561.0" cy="1215.5" r="2.8"/><circle cx="568.3" cy="1196.7" r="2.8"/><circle cx="575.6" cy="1206.6" r="2.8"/><circle cx="582.9" cy="1193.2" r="2.8"/><circle cx="590.2" cy="1195.9" r="2.8"/><circle cx="597.5" cy="1202.5" r="2.8"/><circle cx="604.9" cy="1200.2" r="2.8"/><circle cx="612.2" cy="1190.5" r="2.8"/><circle cx="619.5" cy="1188.7" r="2.8"/><circle cx="626.8" cy="1196.1" r="2.8"/><circle cx="634.1" cy="1192.4" r="2.8"/><circle cx="641.4" cy="1191.8" r="2.8"/><circle cx="648.7" cy="1182.9" r="2.8"/><circle cx="656.1" cy="1166.2" r="2.8"/><circle cx="663.4" cy="1159.8" r="2.8"/><circle cx="670.7" cy="1151.5" r="2.8"/><circle cx="678.0" cy="1153.3" r="2.8"/><circle cx="685.3" cy="1138.7" r="2.8"/><circle cx="692.6" cy="1129.8" r="2.8"/><circle cx="699.9" cy="1124.1" r="2.8"/><circle cx="707.3" cy="1114.4" r="2.8"/><circle cx="714.6" cy="1119.6" r="2.8"/><circle cx="721.9" cy="1113.2" r="2.8"/><circle cx="729.2" cy="1104.6" r="2.8"/><circle cx="736.5" cy="1096.2" r="2.8"/><circle cx="743.8" cy="1085.5" r="2.8"/><circle cx="751.1" cy="1093.3" r="2.8"/><circle cx="758.5" cy="1075.1" r="2.8"/><circle cx="765.8" cy="1049.9" r="2.8"/><circle cx="773.1" cy="1077.1" r="2.8"/><circle cx="780.4" cy="1043.3" r="2.8"/><circle cx="787.7" cy="1034.7" r="2.8"/><circle cx="795.0" cy="1019.7" r="2.8"/><circle cx="802.4" cy="993.4" r="2.8"/><circle cx="809.7" cy="972.5" r="2.8"/><circle cx="817.0" cy="979.7" r="2.8"/><circle cx="824.3" cy="950.2" r="2.8"/><circle cx="831.6" cy="955.4" r="2.8"/><circle cx="838.9" cy="970.7" r="2.8"/><circle cx="846.2" cy="970.0" r="2.8"/><circle cx="853.6" cy="940.9" r="2.8"/><circle cx="860.9" cy="954.8" r="2.8"/><circle cx="868.2" cy="939.3" r="2.8"/><circle cx="875.5" cy="952.5" r="2.8"/><circle cx="882.8" cy="950.9" r="2.8"/></g>
<g fill="#f9a000"><circle cx="92.8" cy="1011.7" r="2.8"/><circle cx="100.1" cy="1032.6" r="2.8"/><circle cx="107.4" cy="1032.6" r="2.8"/><circle cx="114.7" cy="1011.7" r="2.8"/><circle cx="122.1" cy="990.5" r="2.8"/><circle cx="129.4" cy="990.5" r="2.8"/><circle cx="136.7" cy="1032.6" r="2.8"/><circle cx="144.0" cy="1011.7" r="2.8"/><circle cx="151.3" cy="969.0" r="2.8"/><circle cx="158.6" cy="969.0" r="2.8"/><circle cx="165.9" cy="969.0" r="2.8"/><circle cx="173.3" cy="990.5" r="2.8"/><circle cx="180.6" cy="990.5" r="2.8"/><circle cx="187.9" cy="969.0" r="2.8"/><circle cx="195.2" cy="969.0" r="2.8"/><circle cx="202.5" cy="948.0" r="2.8"/><circle cx="209.8" cy="948.0" r="2.8"/><circle cx="217.2" cy="969.0" r="2.8"/><circle cx="224.5" cy="969.0" r="2.8"/><circle cx="231.8" cy="969.0" r="2.8"/><circle cx="239.1" cy="969.0" r="2.8"/><circle cx="246.4" cy="926.7" r="2.8"/><circle cx="253.7" cy="905.2" r="2.8"/><circle cx="261.0" cy="905.2" r="2.8"/><circle cx="268.4" cy="926.7" r="2.8"/><circle cx="275.7" cy="926.7" r="2.8"/><circle cx="283.0" cy="905.2" r="2.8"/><circle cx="290.3" cy="884.4" r="2.8"/><circle cx="297.6" cy="862.9" r="2.8"/><circle cx="304.9" cy="862.9" r="2.8"/><circle cx="312.2" cy="862.9" r="2.8"/><circle cx="319.6" cy="862.9" r="2.8"/><circle cx="326.9" cy="841.7" r="2.8"/><circle cx="334.2" cy="841.7" r="2.8"/><circle cx="341.5" cy="862.9" r="2.8"/><circle cx="348.8" cy="884.4" r="2.8"/><circle cx="356.1" cy="862.9" r="2.8"/><circle cx="363.5" cy="862.9" r="2.8"/><circle cx="370.8" cy="884.4" r="2.8"/><circle cx="378.1" cy="884.4" r="2.8"/><circle cx="385.4" cy="862.9" r="2.8"/><circle cx="392.7" cy="862.9" r="2.8"/><circle cx="400.0" cy="862.9" r="2.8"/><circle cx="407.3" cy="862.9" r="2.8"/><circle cx="414.7" cy="862.9" r="2.8"/><circle cx="422.0" cy="884.4" r="2.8"/><circle cx="429.3" cy="862.9" r="2.8"/><circle cx="436.6" cy="841.7" r="2.8"/><circle cx="443.9" cy="862.9" r="2.8"/><circle cx="451.2" cy="884.4" r="2.8"/><circle cx="458.6" cy="841.7" r="2.8"/><circle cx="465.9" cy="846.0" r="2.8"/><circle cx="473.2" cy="852.4" r="2.8"/><circle cx="480.5" cy="841.7" r="2.8"/><circle cx="487.8" cy="850.3" r="2.8"/><circle cx="495.1" cy="841.7" r="2.8"/><circle cx="502.4" cy="841.7" r="2.8"/><circle cx="509.8" cy="841.7" r="2.8"/><circle cx="517.1" cy="862.9" r="2.8"/><circle cx="524.4" cy="862.9" r="2.8"/><circle cx="531.7" cy="862.9" r="2.8"/><circle cx="539.0" cy="852.4" r="2.8"/><circle cx="546.3" cy="862.9" r="2.8"/><circle cx="553.6" cy="841.7" r="2.8"/><circle cx="561.0" cy="841.7" r="2.8"/><circle cx="568.3" cy="884.4" r="2.8"/><circle cx="575.6" cy="862.9" r="2.8"/><circle cx="582.9" cy="862.9" r="2.8"/><circle cx="590.2" cy="869.3" r="2.8"/><circle cx="597.5" cy="873.7" r="2.8"/><circle cx="604.9" cy="862.9" r="2.8"/><circle cx="612.2" cy="858.8" r="2.8"/><circle cx="619.5" cy="862.9" r="2.8"/><circle cx="626.8" cy="867.3" r="2.8"/><circle cx="634.1" cy="852.4" r="2.8"/><circle cx="641.4" cy="858.8" r="2.8"/><circle cx="648.7" cy="862.9" r="2.8"/><circle cx="656.1" cy="873.7" r="2.8"/><circle cx="663.4" cy="884.4" r="2.8"/><circle cx="670.7" cy="905.2" r="2.8"/><circle cx="678.0" cy="926.6" r="2.8"/><circle cx="685.3" cy="947.9" r="2.8"/><circle cx="692.6" cy="956.3" r="2.8"/><circle cx="699.9" cy="969.0" r="2.8"/><circle cx="707.3" cy="990.4" r="2.8"/><circle cx="714.6" cy="979.5" r="2.8"/><circle cx="721.9" cy="990.4" r="2.8"/><circle cx="729.2" cy="1000.8" r="2.8"/><circle cx="736.5" cy="990.4" r="2.8"/><circle cx="743.8" cy="1000.8" r="2.8"/><circle cx="751.1" cy="1011.5" r="2.8"/><circle cx="758.5" cy="1032.6" r="2.8"/><circle cx="765.8" cy="1054.0" r="2.8"/><circle cx="773.1" cy="1011.5" r="2.8"/><circle cx="780.4" cy="1096.2" r="2.8"/><circle cx="787.7" cy="1096.2" r="2.8"/><circle cx="795.0" cy="1096.2" r="2.8"/><circle cx="802.4" cy="1117.5" r="2.8"/><circle cx="809.7" cy="1138.6" r="2.8"/><circle cx="817.0" cy="1075.1" r="2.8"/><circle cx="824.3" cy="1159.8" r="2.8"/><circle cx="831.6" cy="1159.8" r="2.8"/><circle cx="838.9" cy="1138.6" r="2.8"/><circle cx="846.2" cy="1138.6" r="2.8"/><circle cx="853.6" cy="1159.8" r="2.8"/><circle cx="860.9" cy="1138.6" r="2.8"/><circle cx="868.2" cy="1159.8" r="2.8"/><circle cx="875.5" cy="1159.8" r="2.8"/><circle cx="882.8" cy="1159.8" r="2.8"/></g>
<line x1="643.2" y1="808.5" x2="643.2" y2="1287.3" stroke="#000" stroke-width="2.9" stroke-linecap="round"/>
<line x1="91.6" y1="1440.2" x2="91.6" y2="1972.0" stroke="#000" stroke-width="3" />
<line x1="887.0" y1="1440.2" x2="887.0" y2="1972.0" stroke="#000" stroke-width="3" />
<line x1="90.1" y1="1970.5" x2="888.5" y2="1970.5" stroke="#000" stroke-width="3" />
<line x1="83.6" y1="1441.7" x2="91.6" y2="1441.7" stroke="#000" stroke-width="3" />
<text x="81.1" y="1447.1" font-size="16.5" text-anchor="end" fill="#000" >15</text>
<line x1="83.6" y1="1477.0" x2="91.6" y2="1477.0" stroke="#000" stroke-width="3" />
<text x="81.1" y="1482.4" font-size="16.5" text-anchor="end" fill="#000" >14</text>
<line x1="83.6" y1="1512.2" x2="91.6" y2="1512.2" stroke="#000" stroke-width="3" />
<text x="81.1" y="1517.6" font-size="16.5" text-anchor="end" fill="#000" >13</text>
<line x1="83.6" y1="1547.5" x2="91.6" y2="1547.5" stroke="#000" stroke-width="3" />
<text x="81.1" y="1552.9" font-size="16.5" text-anchor="end" fill="#000" >12</text>
<line x1="83.6" y1="1582.7" x2="91.6" y2="1582.7" stroke="#000" stroke-width="3" />
<text x="81.1" y="1588.1" font-size="16.5" text-anchor="end" fill="#000" >11</text>
<line x1="83.6" y1="1618.0" x2="91.6" y2="1618.0" stroke="#000" stroke-width="3" />
<text x="81.1" y="1623.4" font-size="16.5" text-anchor="end" fill="#000" >10</text>
<line x1="83.6" y1="1653.2" x2="91.6" y2="1653.2" stroke="#000" stroke-width="3" />
<text x="81.1" y="1658.6" font-size="16.5" text-anchor="end" fill="#000" >9</text>
<line x1="83.6" y1="1688.5" x2="91.6" y2="1688.5" stroke="#000" stroke-width="3" />
<text x="81.1" y="1693.9" font-size="16.5" text-anchor="end" fill="#000" >8</text>
<line x1="83.6" y1="1723.7" x2="91.6" y2="1723.7" stroke="#000" stroke-width="3" />
<text x="81.1" y="1729.1" font-size="16.5" text-anchor="end" fill="#000" >7</text>
<line x1="83.6" y1="1759.0" x2="91.6" y2="1759.0" stroke="#000" stroke-width="3" />
<text x="81.1" y="1764.4" font-size="16.5" text-anchor="end" fill="#000" >6</text>
<line x1="83.6" y1="1794.2" x2="91.6" y2="1794.2" stroke="#000" stroke-width="3" />
<text x="81.1" y="1799.6" font-size="16.5" text-anchor="end" fill="#000" >5</text>
<line x1="83.6" y1="1829.5" x2="91.6" y2="1829.5" stroke="#000" stroke-width="3" />
<text x="81.1" y="1834.9" font-size="16.5" text-anchor="end" fill="#000" >4</text>
<line x1="83.6" y1="1864.7" x2="91.6" y2="1864.7" stroke="#000" stroke-width="3" />
<text x="81.1" y="1870.1" font-size="16.5" text-anchor="end" fill="#000" >3</text>
<line x1="83.6" y1="1900.0" x2="91.6" y2="1900.0" stroke="#000" stroke-width="3" />
<text x="81.1" y="1905.4" font-size="16.5" text-anchor="end" fill="#000" >2</text>
<line x1="83.6" y1="1935.2" x2="91.6" y2="1935.2" stroke="#000" stroke-width="3" />
<text x="81.1" y="1940.6" font-size="16.5" text-anchor="end" fill="#000" >1</text>
<line x1="83.6" y1="1970.5" x2="91.6" y2="1970.5" stroke="#000" stroke-width="3" />
<text x="81.1" y="1975.9" font-size="16.5" text-anchor="end" fill="#000" >0</text>
<line x1="887.0" y1="1441.7" x2="895.0" y2="1441.7" stroke="#000" stroke-width="3" />
<text x="897.0" y="1447.1" font-size="16.5" text-anchor="start" fill="#000" >15</text>
<line x1="887.0" y1="1477.0" x2="895.0" y2="1477.0" stroke="#000" stroke-width="3" />
<text x="897.0" y="1482.4" font-size="16.5" text-anchor="start" fill="#000" >14</text>
<line x1="887.0" y1="1512.2" x2="895.0" y2="1512.2" stroke="#000" stroke-width="3" />
<text x="897.0" y="1517.6" font-size="16.5" text-anchor="start" fill="#000" >13</text>
<line x1="887.0" y1="1547.5" x2="895.0" y2="1547.5" stroke="#000" stroke-width="3" />
<text x="897.0" y="1552.9" font-size="16.5" text-anchor="start" fill="#000" >12</text>
<line x1="887.0" y1="1582.7" x2="895.0" y2="1582.7" stroke="#000" stroke-width="3" />
<text x="897.0" y="1588.1" font-size="16.5" text-anchor="start" fill="#000" >11</text>
<line x1="887.0" y1="1618.0" x2="895.0" y2="1618.0" stroke="#000" stroke-width="3" />
<text x="897.0" y="1623.4" font-size="16.5" text-anchor="start" fill="#000" >10</text>
<line x1="887.0" y1="1653.2" x2="895.0" y2="1653.2" stroke="#000" stroke-width="3" />
<text x="897.0" y="1658.6" font-size="16.5" text-anchor="start" fill="#000" >9</text>
<line x1="887.0" y1="1688.5" x2="895.0" y2="1688.5" stroke="#000" stroke-width="3" />
<text x="897.0" y="1693.9" font-size="16.5" text-anchor="start" fill="#000" >8</text>
<line x1="887.0" y1="1723.7" x2="895.0" y2="1723.7" stroke="#000" stroke-width="3" />
<text x="897.0" y="1729.1" font-size="16.5" text-anchor="start" fill="#000" >7</text>
<line x1="887.0" y1="1759.0" x2="895.0" y2="1759.0" stroke="#000" stroke-width="3" />
<text x="897.0" y="1764.4" font-size="16.5" text-anchor="start" fill="#000" >6</text>
<line x1="887.0" y1="1794.2" x2="895.0" y2="1794.2" stroke="#000" stroke-width="3" />
<text x="897.0" y="1799.6" font-size="16.5" text-anchor="start" fill="#000" >5</text>
<line x1="887.0" y1="1829.5" x2="895.0" y2="1829.5" stroke="#000" stroke-width="3" />
<text x="897.0" y="1834.9" font-size="16.5" text-anchor="start" fill="#000" >4</text>
<line x1="887.0" y1="1864.7" x2="895.0" y2="1864.7" stroke="#000" stroke-width="3" />
<text x="897.0" y="1870.1" font-size="16.5" text-anchor="start" fill="#000" >3</text>
<line x1="887.0" y1="1900.0" x2="895.0" y2="1900.0" stroke="#000" stroke-width="3" />
<text x="897.0" y="1905.4" font-size="16.5" text-anchor="start" fill="#000" >2</text>
<line x1="887.0" y1="1935.2" x2="895.0" y2="1935.2" stroke="#000" stroke-width="3" />
<text x="897.0" y="1940.6" font-size="16.5" text-anchor="start" fill="#000" >1</text>
<line x1="887.0" y1="1970.5" x2="895.0" y2="1970.5" stroke="#000" stroke-width="3" />
<text x="897.0" y="1975.9" font-size="16.5" text-anchor="start" fill="#000" >0</text>
<line x1="95.1" y1="1970.5" x2="95.1" y2="1979.0" stroke="#000" stroke-width="3" />
<text x="95.1" y="1995.0" font-size="16.5" text-anchor="middle" fill="#000" >0</text>
<line x1="175.8" y1="1970.5" x2="175.8" y2="1979.0" stroke="#000" stroke-width="3" />
<text x="175.8" y="1995.0" font-size="16.5" text-anchor="middle" fill="#000" >5</text>
<line x1="264.2" y1="1970.5" x2="264.2" y2="1979.0" stroke="#000" stroke-width="3" />
<text x="264.2" y="1995.0" font-size="16.5" text-anchor="middle" fill="#000" >7</text>
<line x1="352.6" y1="1970.5" x2="352.6" y2="1979.0" stroke="#000" stroke-width="3" />
<text x="352.6" y="1995.0" font-size="16.5" text-anchor="middle" fill="#000" >9</text>
<line x1="441.0" y1="1970.5" x2="441.0" y2="1979.0" stroke="#000" stroke-width="3" />
<text x="441.0" y="1995.0" font-size="16.5" text-anchor="middle" fill="#000" >11</text>
<line x1="529.4" y1="1970.5" x2="529.4" y2="1979.0" stroke="#000" stroke-width="3" />
<text x="529.4" y="1995.0" font-size="16.5" text-anchor="middle" fill="#000" >13</text>
<line x1="617.8" y1="1970.5" x2="617.8" y2="1979.0" stroke="#000" stroke-width="3" />
<text x="617.8" y="1995.0" font-size="16.5" text-anchor="middle" fill="#000" >15</text>
<line x1="706.2" y1="1970.5" x2="706.2" y2="1979.0" stroke="#000" stroke-width="3" />
<text x="706.2" y="1995.0" font-size="16.5" text-anchor="middle" fill="#000" >17</text>
<line x1="794.6" y1="1970.5" x2="794.6" y2="1979.0" stroke="#000" stroke-width="3" />
<text x="794.6" y="1995.0" font-size="16.5" text-anchor="middle" fill="#000" >19</text>
<line x1="883.0" y1="1970.5" x2="883.0" y2="1979.0" stroke="#000" stroke-width="3" />
<text x="883.0" y="1995.0" font-size="16.5" text-anchor="middle" fill="#000" >21</text>
<line x1="93" y1="1901.4" x2="882.5" y2="1901.4" stroke="#5f5f5f" stroke-width="3.6" stroke-dasharray="11.35 8.6" stroke-dashoffset="2.75" stroke-linecap="round"/>
<line x1="480.3" y1="1492.0" x2="480.3" y2="1970.5" stroke="#000" stroke-width="2.8" stroke-linecap="round"/>
<line x1="572.6" y1="1492.0" x2="572.6" y2="1970.5" stroke="#000" stroke-width="2.8" stroke-linecap="round"/>
<line x1="652.1" y1="1492.0" x2="652.1" y2="1970.5" stroke="#000" stroke-width="2.8" stroke-linecap="round"/>
<circle cx="485.4" cy="1896.3" r="17.6" fill="none" stroke="#f0157a" stroke-width="2.4" stroke-dasharray="8.2 5.7"/>
<circle cx="573.4" cy="1864.2" r="17.6" fill="none" stroke="#f0157a" stroke-width="2.4" stroke-dasharray="8.2 5.7"/>
<circle cx="653.2" cy="1793.2" r="17.6" fill="none" stroke="#f0157a" stroke-width="2.4" stroke-dasharray="8.2 5.7"/>
<circle cx="95.2" cy="1900.2" r="5.1" fill="#000"/>
<circle cx="220" cy="1914.6" r="5.1" fill="#000"/>
<circle cx="308.6" cy="1910.6" r="5.1" fill="#000"/>
<circle cx="397.1" cy="1907.2" r="5.1" fill="#000"/>
<circle cx="485.6" cy="1897.4" r="5.1" fill="#000"/>
<circle cx="573.7" cy="1864.8" r="5.1" fill="#000"/>
<circle cx="654.9" cy="1794.2" r="5.1" fill="#000"/>
<circle cx="750.8" cy="1717.1" r="5.1" fill="#000"/>
<circle cx="838.9" cy="1582.7" r="5.1" fill="#000"/>
<polyline fill="none" stroke="#0000ff" stroke-width="2.2" points="573.4,1865.1 580.7,1865.1 580.7,1900.3 573.4,1900.3"/>
<polyline fill="none" stroke="#168a16" stroke-width="2.2" points="654.5,1794.1 660.2,1794.1 660.2,1900.3 653,1900.3"/>
<clipPath id="cc"><rect x="0" y="1576.4" width="969" height="500"/></clipPath>
<polyline clip-path="url(#cc)" fill="none" stroke="#0000ff" stroke-width="6.3" stroke-linejoin="round" points="92.4,1910.6 300.0,1910.6 332.0,1910.4 336.0,1910.3 340.0,1910.2 344.0,1910.1 348.0,1910.0 352.0,1909.8 356.0,1909.7 360.0,1909.5 364.0,1909.3 368.0,1909.0 372.0,1908.8 376.0,1908.5 380.0,1908.2 384.0,1907.9 388.0,1907.6 392.0,1907.2 396.0,1906.8 400.0,1906.4 404.0,1905.9 408.0,1905.5 412.0,1905.0 416.0,1904.4 420.0,1903.8 424.0,1903.2 428.0,1902.6 432.0,1901.9 436.0,1901.2 440.0,1900.5 444.0,1899.7 448.0,1898.9 452.0,1898.1 456.0,1897.2 460.0,1896.3 464.0,1895.4 468.0,1894.4 472.0,1893.4 476.0,1892.4 480.0,1891.3 484.0,1890.2 488.0,1889.1 492.0,1887.9 496.0,1886.7 500.0,1885.4 504.0,1884.2 508.0,1882.8 512.0,1881.5 516.0,1880.1 520.0,1878.7 524.0,1877.2 528.0,1875.7 532.0,1874.1 536.0,1872.6 540.0,1871.0 544.0,1869.3 548.0,1867.6 552.0,1865.9 556.0,1864.1 560.0,1862.3 564.0,1860.5 568.0,1858.6 572.0,1856.7 576.0,1854.7 580.0,1852.7 584.0,1850.7 588.0,1848.6 592.0,1846.5 596.0,1844.3 600.0,1842.1 604.0,1839.9 608.0,1837.6 612.0,1835.3 616.0,1832.9 620.0,1830.5 624.0,1828.0 628.0,1825.5 632.0,1822.9 636.0,1820.3 640.0,1817.6 644.0,1814.9 648.0,1812.1 652.0,1809.2 656.0,1806.3 660.0,1803.3 664.0,1800.3 668.0,1797.2 672.0,1794.0 676.0,1790.7 680.0,1787.4 684.0,1783.9 688.0,1780.5 692.0,1776.9 696.0,1773.2 700.0,1769.5 704.0,1765.7 708.0,1761.8 712.0,1757.8 716.0,1753.7 720.0,1749.5 724.0,1745.3 728.0,1740.9 732.0,1736.5 736.0,1731.9 740.0,1727.2 744.0,1722.4 748.0,1717.6 752.0,1712.5 756.0,1707.4 760.0,1702.2 764.0,1696.8 768.0,1691.3 772.0,1685.6 776.0,1679.8 780.0,1673.9 784.0,1667.8 788.0,1661.6 792.0,1655.2 796.0,1648.6 800.0,1641.9 804.0,1635.0 808.0,1628.0 812.0,1620.8 816.0,1613.4 820.0,1605.8 824.0,1598.1 828.0,1590.1 832.0,1582.0 836.0,1573.6 837.5,1570.5"/>
<text x="481" y="1477.6" font-size="21.5" letter-spacing="-0.25" font-style="italic" text-anchor="middle" fill="#fb5200">LT</text>
<text x="574.6" y="1477.6" font-size="21.5" letter-spacing="-0.25" font-style="italic" text-anchor="middle" fill="#0000ff">LT+1.0</text>
<text x="662.3" y="1477.6" font-size="21.5" letter-spacing="-0.25" font-style="italic" text-anchor="middle" fill="#0a800a">LT+3.0</text>
<text x="800.3" y="1896.2" font-size="21.5" letter-spacing="-0.25" font-style="italic" text-anchor="middle" fill="#666">Base Line</text>
<text transform="translate(21.4,312.5) rotate(-90)" font-size="22.5" text-anchor="middle" letter-spacing="-0.9">VE/VO<tspan font-size="17" dy="6.5">2</tspan><tspan dy="-6.5"> - VE/VCO</tspan><tspan font-size="17" dy="6.5">2</tspan></text>
<text transform="translate(23.9,1024.4) rotate(-90)" font-size="22.5" text-anchor="middle" letter-spacing="-0.9">VE/VO<tspan font-size="17" dy="6.5">2</tspan><tspan dy="-6.5"> - VE/VCO</tspan><tspan font-size="17" dy="6.5">2</tspan></text>
<text transform="translate(951.6,311.6) rotate(-90)" font-size="21.5" text-anchor="middle" letter-spacing="-0.5">PET 0<tspan font-size="16" dy="6">2</tspan><tspan dy="-6"> (mmHg)</tspan></text>
<text transform="translate(957.1,1024) rotate(-90)" font-size="22.5" text-anchor="middle" letter-spacing="-1.1">PET CO<tspan font-size="17" dy="6.5">2</tspan><tspan dy="-6.5"> (mmHg)</tspan></text>
<text transform="translate(28.9,1708.5) rotate(-90)" font-size="22.5" text-anchor="middle" letter-spacing="-0.4">[lact] (mmol·L<tspan font-size="14" dy="-8">-1</tspan><tspan dy="8">)</tspan></text>
<text transform="translate(958.5,1708.5) rotate(-90)" font-size="22.5" text-anchor="middle" letter-spacing="-0.4">[lact] (mmol·L<tspan font-size="14" dy="-8">-1</tspan><tspan dy="8">)</tspan></text>
<text x="486.8" y="651.8" font-size="26" letter-spacing="0.15" text-anchor="middle">Load (Km·h<tspan font-size="15" dy="-9.5">-1</tspan><tspan dy="9.5">)</tspan></text>
<text x="488.2" y="1363" font-size="26" letter-spacing="0.15" text-anchor="middle">Load (Km·h<tspan font-size="15" dy="-9.5">-1</tspan><tspan dy="9.5">)</tspan></text>
<text x="489.6" y="2045.6" font-size="26" letter-spacing="0.15" text-anchor="middle">Load (Km·h<tspan font-size="15" dy="-9.5">-1</tspan><tspan dy="9.5">)</tspan></text>
<circle cx="235.9" cy="14.1" r="8.6" fill="#ff0000"/>
<text x="267.4" y="19" font-size="20" letter-spacing="-0.45">VE/VO<tspan font-size="14" dy="5">2</tspan></text>
<circle cx="394.2" cy="13.8" r="8.6" fill="#0000ff"/>
<text x="421.8" y="19" font-size="20" letter-spacing="-0.45">VE/VCO<tspan font-size="14" dy="5">2</tspan></text>
<circle cx="561.0" cy="14.2" r="8.6" fill="#33dd22"/>
<text x="592.1" y="19" font-size="20" letter-spacing="-0.45">PET O<tspan font-size="14" dy="5">2</tspan></text>
<circle cx="561.0" cy="14.2" r="4.2" fill="#5fdc4c"/>
<circle cx="233" cy="739.3" r="8.6" fill="#ff0000"/>
<text x="259.5" y="741.8" font-size="20" letter-spacing="-0.45">VE/VO<tspan font-size="14" dy="5">2</tspan></text>
<circle cx="389.6" cy="738.6" r="8.6" fill="#0000ff"/>
<text x="416.4" y="741.8" font-size="20" letter-spacing="-0.45">VE/VCO<tspan font-size="14" dy="5">2</tspan></text>
<circle cx="559" cy="739.5" r="8.6" fill="#fcc45a"/>
<text x="585.1" y="741.8" font-size="20" letter-spacing="-0.45">PET CO<tspan font-size="14" dy="5">2</tspan></text>
<text x="449.8" y="75.7" font-size="23.5" letter-spacing="-1.2" font-style="italic" fill="#ff0000">VT<tspan font-size="17" dx="-0.6" dy="7">1</tspan></text>
<text x="620.6" y="794.1" font-size="23.5" letter-spacing="-1.2" font-style="italic" fill="#0000ff">VT<tspan font-size="17" dx="-0.6" dy="7">2</tspan></text>
<text x="3.6" y="27.9" font-size="34" text-anchor="start" fill="#000" >A</text>
<text x="3.6" y="735.8" font-size="34" text-anchor="start" fill="#000" >B</text>
<text x="3.6" y="1417.4" font-size="34.5" text-anchor="start" fill="#000" >C</text>
</svg></body></html>
